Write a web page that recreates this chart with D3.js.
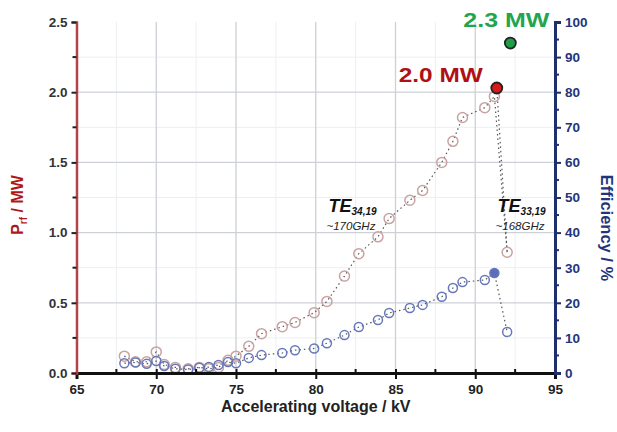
<!DOCTYPE html>
<html>
<head>
<meta charset="utf-8">
<script src="https://cdn.jsdelivr.net/npm/d3@7"></script>
<style>
  body { margin: 0; background: #fff; }
  svg { display: block; font-family: "Liberation Sans", Arial, sans-serif; }
</style>
</head>
<body>
<svg id="chart" width="617" height="432"></svg>
<script>
// measured points (voltage in kV)
const voltage = [68.0, 68.7, 69.4, 70.0, 70.5, 71.2, 72.0, 72.7, 73.3, 73.9, 74.5, 75.0, 75.8, 76.6, 77.9, 78.7, 79.9, 80.7, 81.8, 82.7, 83.9, 84.6, 85.9, 86.7, 87.9, 88.6, 89.2, 90.6, 91.2, 92.0];
const power = [0.12, 0.08, 0.08, 0.15, 0.06, 0.04, 0.03, 0.04, 0.03, 0.04, 0.09, 0.12, 0.19, 0.28, 0.33, 0.36, 0.43, 0.51, 0.69, 0.85, 0.97, 1.10, 1.23, 1.30, 1.50, 1.65, 1.82, 1.89, 1.97, 0.86];
const efficiency = [2.8, 3.0, 2.6, 3.4, 2.0, 1.2, 1.0, 1.5, 1.7, 2.3, 3.1, 2.8, 4.3, 5.1, 5.7, 6.5, 7.0, 8.5, 10.8, 13.1, 15.1, 17.1, 18.5, 19.4, 21.7, 24.2, 25.9, 26.5, 28.5, 11.7];

// highlighted results
const peakLabels = ["2.0 MW", "2.3 MW"];
const peakVoltage = [91.35, 92.2];
const peakPower = [2.03, 2.35];

const modeNames = ["34,19", "33,19"];
const modeFreqs = ["~170GHz", "~168GHz"];
const modeVoltage = [80.8, 91.4];
const modePower = [1.15, 1.15];

const xTicks = [65, 70, 75, 80, 85, 90, 95];
const pTicks = [0.0, 0.5, 1.0, 1.5, 2.0, 2.5];
const effTicks = [0, 10, 20, 30, 40, 50, 60, 70, 80, 90, 100];

const svg = d3.select("#chart");
const mLeft = 76.5, mRight = 555, mTop = 22, mBottom = 373;

const x = d3.scaleLinear().domain([65, 95]).range([mLeft, mRight]);
const yP = d3.scaleLinear().domain([0, 2.5]).range([mBottom, mTop]);
const yE = d3.scaleLinear().domain([0, 100]).range([mBottom, mTop]);

// grid
const grid = svg.append("g");
grid.selectAll(".vminor").data(d3.range(67.5, 95, 5)).enter().append("line")
  .attr("x1", d => x(d)).attr("x2", d => x(d)).attr("y1", mTop).attr("y2", mBottom)
  .attr("stroke", "#eceff2").attr("stroke-width", 1);
grid.selectAll(".hminor").data(d3.range(0.25, 2.5, 0.5)).enter().append("line")
  .attr("x1", mLeft).attr("x2", mRight).attr("y1", d => yP(d)).attr("y2", d => yP(d))
  .attr("stroke", "#eceff2").attr("stroke-width", 1);
grid.selectAll(".v").data(xTicks.slice(1, -1)).enter().append("line")
  .attr("x1", d => x(d)).attr("x2", d => x(d)).attr("y1", mTop).attr("y2", mBottom)
  .attr("stroke", "#cdd1d6").attr("stroke-width", 1.3);
grid.selectAll(".h").data(pTicks.slice(1, -1)).enter().append("line")
  .attr("x1", mLeft).attr("x2", mRight).attr("y1", d => yP(d)).attr("y2", d => yP(d))
  .attr("stroke", "#cdd1d6").attr("stroke-width", 1.3);

// connecting dotted lines
const line = (ys, vals) => d3.line().x((d, i) => x(voltage[i])).y(d => ys(d))(vals);
const dotted = sel => sel.attr("fill", "none").attr("stroke", "#555")
  .attr("stroke-width", 1.2).attr("stroke-dasharray", "1.5,3");
svg.append("path").attr("d", line(yP, power)).call(dotted);
svg.append("path").attr("d", line(yE, efficiency)).call(dotted);
svg.append("path")
  .attr("d", d3.line()([[x(peakVoltage[0]), yP(peakPower[0])], [x(voltage[29]), yP(power[29])]]))
  .call(dotted);

// markers
svg.append("g").selectAll("circle").data(power).enter().append("circle")
  .attr("cx", (d, i) => x(voltage[i])).attr("cy", d => yP(d)).attr("r", 5)
  .attr("fill", "none").attr("stroke", "#c9a3a3").attr("stroke-width", 1.5);
svg.append("g").selectAll("circle").data(efficiency).enter().append("circle")
  .attr("cx", (d, i) => x(voltage[i])).attr("cy", d => yE(d)).attr("r", 4.5)
  .attr("fill", (d, i) => i === 28 ? "#5b6fb8" : "none")
  .attr("stroke", "#6677bb").attr("stroke-width", 1.5);

// axes
const axB = svg.append("g").attr("transform", `translate(0,${mBottom})`)
  .call(d3.axisBottom(x).tickValues(xTicks).tickSize(6).tickPadding(5).tickFormat(d3.format("d")));
axB.selectAll(".tick line").attr("y1", -4);
axB.selectAll(".minor").data(d3.range(67.5, 95, 5)).enter().append("line")
  .attr("x1", d => x(d)).attr("x2", d => x(d)).attr("y1", -4).attr("y2", 0)
  .attr("stroke", "#111").attr("stroke-width", 2);
axB.select(".domain").attr("stroke", "#111").attr("stroke-width", 3);
axB.selectAll(".tick line").attr("stroke", "#111").attr("stroke-width", 2);
axB.selectAll("text").attr("fill", "#222").attr("font-size", 13.5).attr("font-weight", "bold");

const axL = svg.append("g").attr("transform", `translate(${mLeft},0)`)
  .call(d3.axisLeft(yP).tickValues(pTicks).tickSize(5).tickPadding(4).tickFormat(d3.format(".1f")));
axL.selectAll(".minor").data(d3.range(0.25, 2.5, 0.5)).enter().append("line")
  .attr("x1", -4).attr("x2", 0).attr("y1", d => yP(d)).attr("y2", d => yP(d))
  .attr("stroke", "#222").attr("stroke-width", 2);
axL.select(".domain").attr("stroke", "#b2454a").attr("stroke-width", 2.5);
axL.selectAll(".tick line").attr("stroke", "#222").attr("stroke-width", 2);
axL.selectAll("text").attr("fill", "#333").attr("font-size", 13.5).attr("font-weight", "bold");

const axR = svg.append("g").attr("transform", `translate(${mRight},0)`)
  .call(d3.axisRight(yE).tickValues(effTicks).tickSize(6).tickPadding(4));
axR.selectAll(".minor").data(d3.range(5, 100, 10)).enter().append("line")
  .attr("x1", 0).attr("x2", 4).attr("y1", d => yE(d)).attr("y2", d => yE(d))
  .attr("stroke", "#1d2f6e").attr("stroke-width", 2);
axR.select(".domain").attr("stroke", "#1d2f6e").attr("stroke-width", 3);
axR.selectAll(".tick line").attr("stroke", "#1d2f6e").attr("stroke-width", 2);
axR.selectAll("text").attr("fill", "#23357a").attr("font-size", 13.5).attr("font-weight", "bold");

// axis titles
svg.append("text").attr("transform", `translate(${(mLeft + mRight) / 2},412)`)
  .attr("text-anchor", "middle").attr("font-size", 16).attr("font-weight", "bold").attr("fill", "#222")
  .text("Accelerating voltage / kV");
const pl = svg.append("text").attr("transform", "translate(23,205) rotate(-90)")
  .attr("text-anchor", "middle").attr("font-size", 16).attr("font-weight", "bold").attr("fill", "#b01818");
pl.append("tspan").text("P");
pl.append("tspan").attr("font-size", 10).attr("dy", 4).text("rf");
pl.append("tspan").attr("dy", -4).text(" / MW");
svg.append("text").attr("transform", "translate(601,228) rotate(90)")
  .attr("text-anchor", "middle").attr("font-size", 16.5).attr("font-weight", "bold").attr("fill", "#23357a")
  .text("Efficiency / %");

// highlighted points and labels
const peakFill = ["#d7191c", "#1f9e4a"];
const peakText = ["#b01015", "#1fa64f"];
svg.selectAll(".peak").data(peakPower).enter().append("circle")
  .attr("cx", (d, i) => x(peakVoltage[i])).attr("cy", d => yP(d)).attr("r", 5.5)
  .attr("fill", (d, i) => peakFill[i]).attr("stroke", "#222").attr("stroke-width", 1.8);
svg.selectAll(".peaklabel").data(peakLabels).enter().append("text")
  .attr("x", (d, i) => x(peakVoltage[i]) + (i === 0 ? -14 : 39))
  .attr("y", (d, i) => yP(peakPower[i]) - (i === 0 ? 6 : 16))
  .attr("text-anchor", "end").attr("font-size", 21).attr("font-weight", "bold")
  .attr("textLength", (d, i) => i === 0 ? 84 : 86).attr("lengthAdjust", "spacingAndGlyphs")
  .attr("fill", (d, i) => peakText[i]).text(d => d);

// mode annotations
modeNames.forEach((name, i) => {
  const px = x(modeVoltage[i]), py = yP(modePower[i]);
  const t = svg.append("text").attr("x", px).attr("y", py)
    .attr("font-size", 18).attr("font-weight", "bold").attr("font-style", "italic").attr("fill", "#111");
  t.append("tspan").text("TE");
  t.append("tspan").attr("font-size", 10).attr("dy", 3).text(name);
  svg.append("text").attr("x", px - 2).attr("y", py + 18)
    .attr("font-size", 11.5).attr("font-style", "italic").attr("fill", "#222").text(modeFreqs[i]);
});
</script>
</body>
</html>
